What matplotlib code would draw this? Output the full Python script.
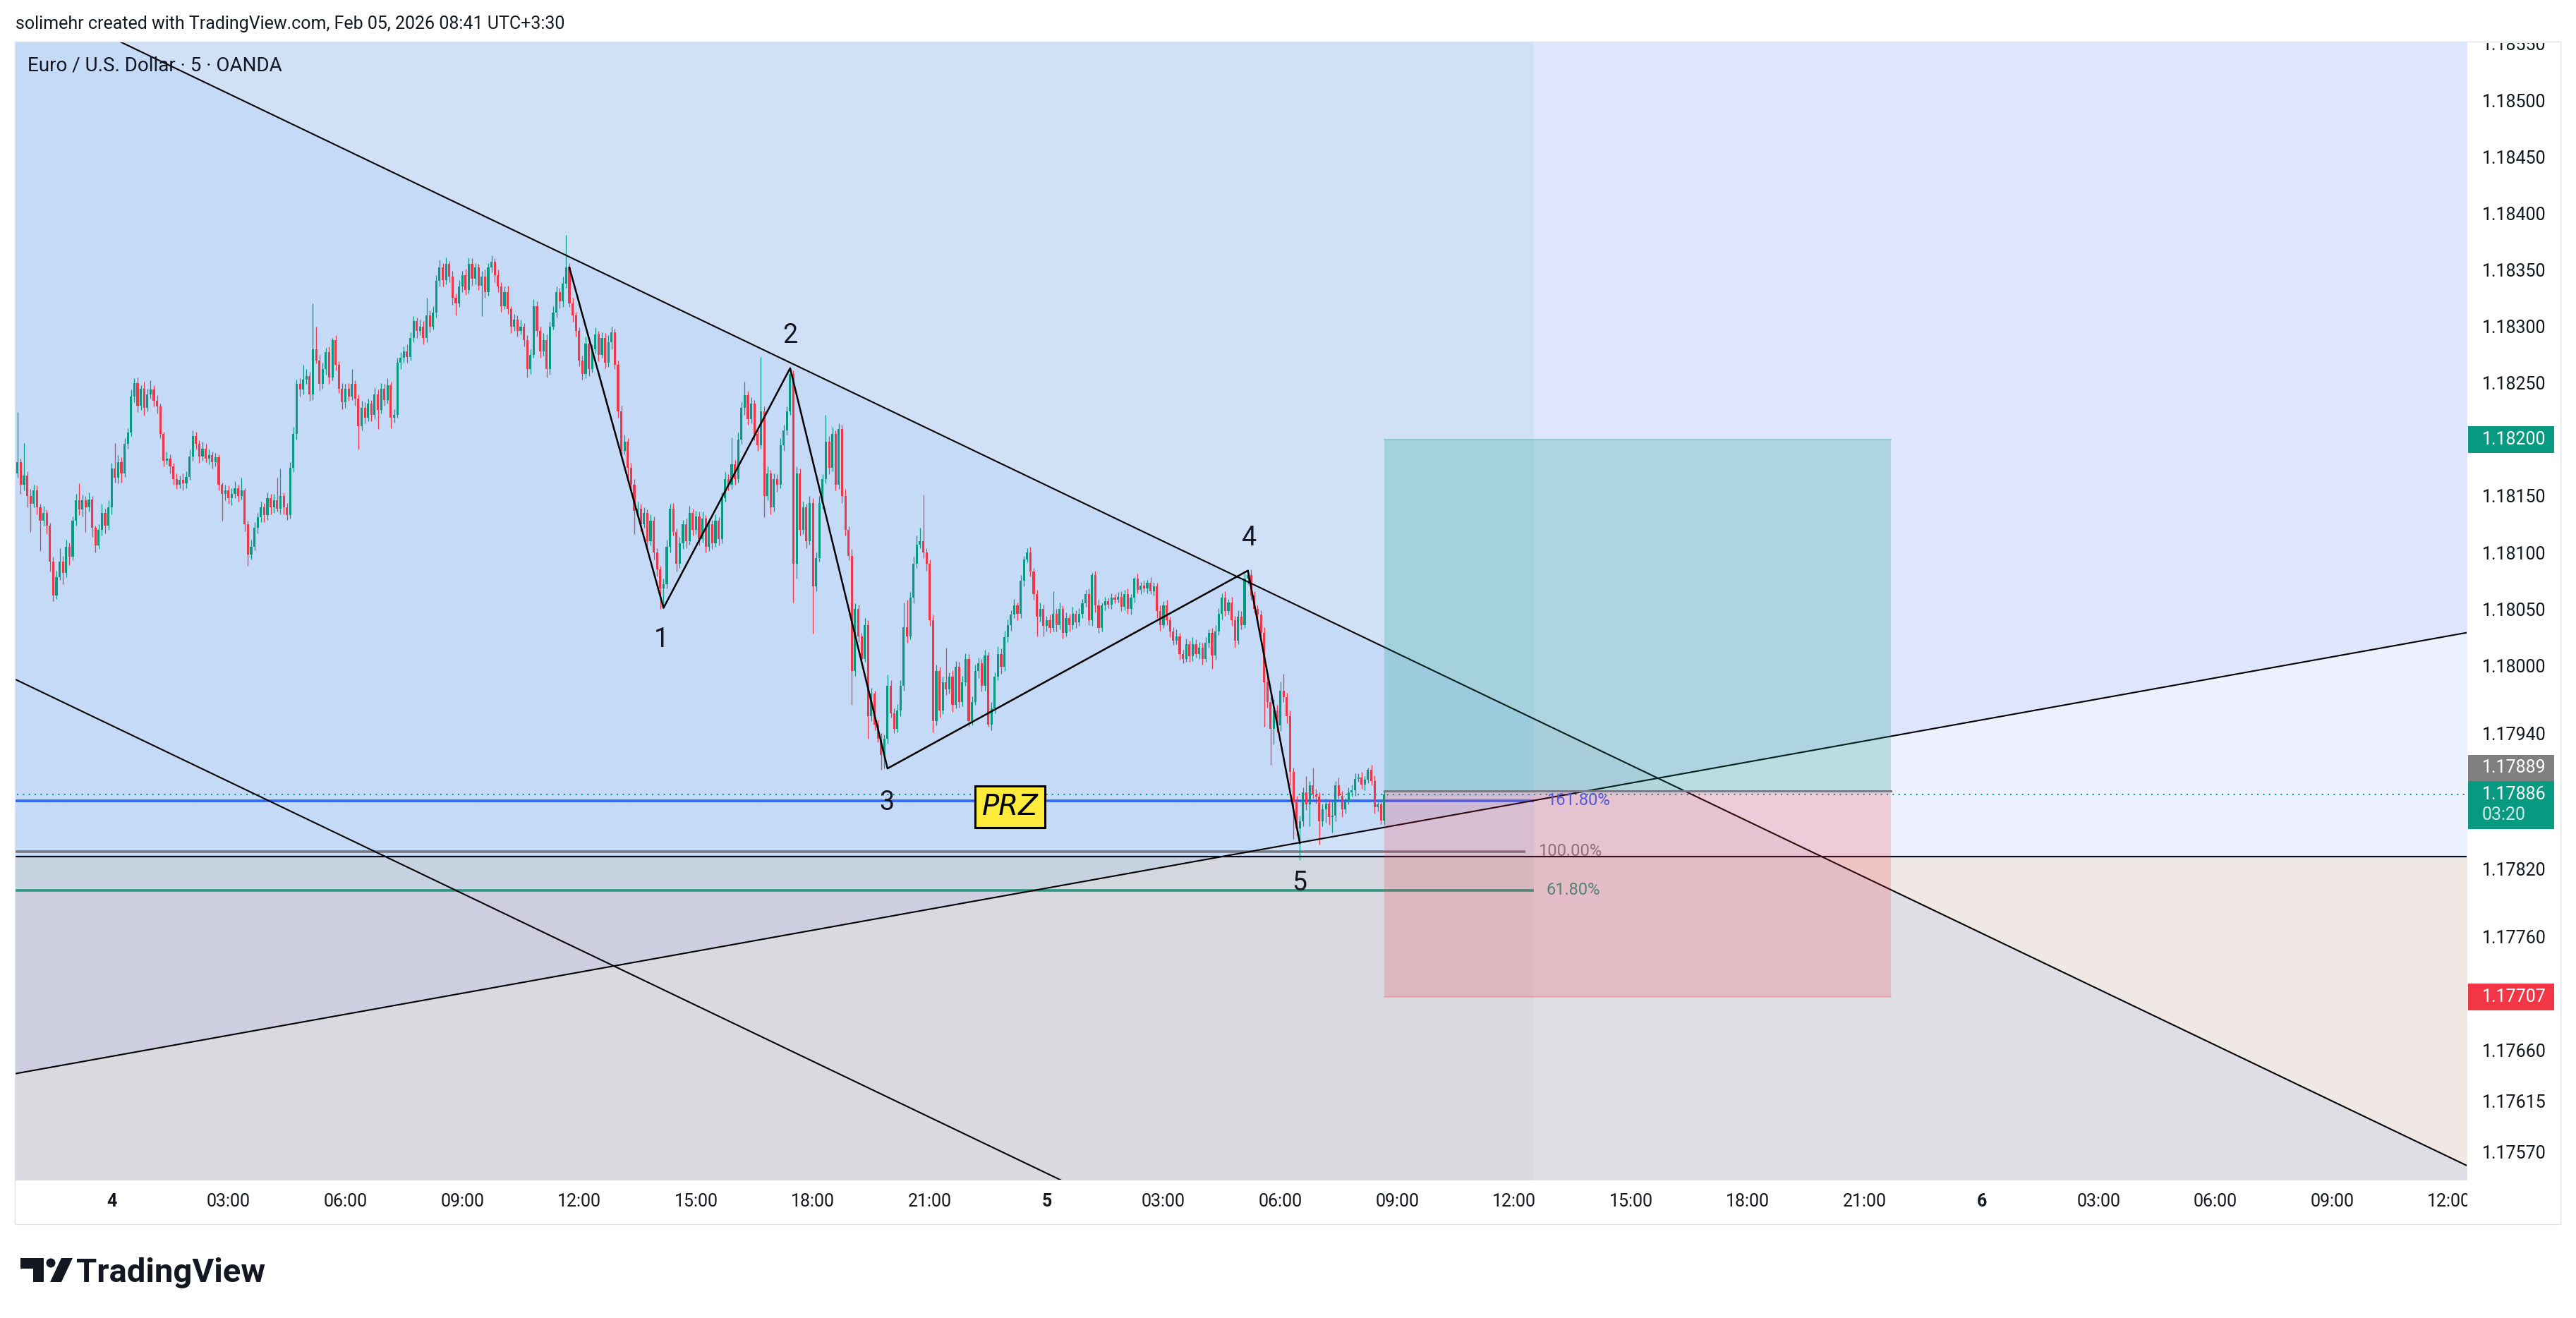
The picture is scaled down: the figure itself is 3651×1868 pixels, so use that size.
"""
EUR/USD 5m chart: wave count 1-5, fib levels, PRZ and a long position
Usage: python plot.py
"""

import numpy as np
import pandas as pd
import matplotlib
matplotlib.use("Agg")
import matplotlib.pyplot as plt
import matplotlib.dates as mdates
import matplotlib.transforms as mtransforms
from matplotlib.patches import Rectangle, Polygon, Ellipse

# Configuration
OUT_PATH = "out.png"
FIG_W, FIG_H, DPI = 3651, 1868, 100
AX_LEFT, AX_TOP, AX_RIGHT, AX_BOTTOM = 22, 59, 3496, 1672   # pixels

# Candles, values are 1e-5 steps above BASE; open = previous close
BASE = 1.17
FIRST_BAR = "2026-02-03 21:35"
OPEN0 = 1170
CLOSE = [
    1180, 1160, 1168, 1150, 1143,
    1155, 1140, 1128, 1135, 1124, 1092, 1062, 1078, 1092, 1082, 1105, 1096,
    1128, 1146, 1138, 1146, 1140, 1147, 1122, 1106, 1120, 1135, 1124, 1140,
    1174, 1166, 1180, 1170, 1196, 1206, 1238, 1250, 1230, 1245, 1228, 1240,
    1244, 1234, 1229, 1205, 1181, 1183, 1176, 1165, 1160, 1164, 1161, 1167,
    1185, 1203, 1196, 1185, 1192, 1183, 1186, 1180, 1184, 1160, 1152, 1155,
    1148, 1152, 1157, 1150, 1155, 1125, 1098, 1105, 1122, 1131, 1140, 1133,
    1148, 1140, 1146, 1139, 1150, 1140, 1133, 1175, 1205, 1249, 1244, 1253,
    1256, 1240, 1280, 1270, 1249, 1262, 1277, 1255, 1288, 1266, 1245, 1233,
    1245, 1238, 1249, 1236, 1212, 1228, 1219, 1232, 1222, 1240, 1226, 1245,
    1235, 1248, 1219, 1222, 1268, 1272, 1278, 1273, 1290, 1305, 1296, 1300,
    1290, 1310, 1300, 1312, 1340, 1352, 1341, 1355, 1344, 1325, 1320, 1335,
    1345, 1332, 1355, 1342, 1352, 1336, 1344, 1330, 1352, 1357, 1345, 1335,
    1318, 1330, 1315, 1300, 1306, 1296, 1300, 1288, 1262, 1275, 1318, 1296,
    1278, 1288, 1262, 1300, 1312, 1330, 1322, 1338, 1352, 1320, 1310, 1296,
    1270, 1258, 1285, 1262, 1280, 1293, 1275, 1290, 1268, 1286, 1295, 1266,
    1225, 1190, 1198, 1175, 1160, 1137, 1139, 1125, 1135, 1110, 1128, 1100,
    1085, 1068, 1072, 1105, 1139, 1118, 1090, 1108, 1125, 1110, 1135, 1120,
    1132, 1112, 1130, 1105, 1125, 1108, 1128, 1112, 1148, 1165, 1160, 1178,
    1165, 1200, 1228, 1239, 1218, 1232, 1205, 1195, 1225, 1150, 1170, 1140,
    1165, 1160, 1195, 1208, 1225, 1258, 1090, 1170, 1120, 1140, 1110, 1144,
    1070, 1095, 1144, 1165, 1198, 1175, 1205, 1160, 1209, 1150, 1120, 1097,
    995, 1050, 1026, 1006, 1036, 955, 975, 948, 935, 921, 935, 982,
    958, 944, 960, 982, 1034, 1026, 1060, 1090, 1107, 1110, 1100, 1090,
    1040, 951, 995, 960, 985, 979, 990, 965, 999, 968, 985, 1006,
    951, 968, 995, 1002, 982, 1009, 948, 962, 990, 1010, 999, 1025,
    1036, 1045, 1053, 1046, 1075, 1094, 1100, 1083, 1063, 1043, 1050, 1035,
    1040, 1033, 1046, 1036, 1050, 1029, 1042, 1036, 1046, 1038, 1046, 1055,
    1063, 1040, 1080, 1053, 1033, 1053, 1057, 1054, 1060, 1058, 1061, 1052,
    1063, 1050, 1060, 1077, 1067, 1071, 1068, 1073, 1066, 1070, 1048, 1036,
    1053, 1040, 1030, 1022, 1026, 1010, 1006, 1019, 1008, 1019, 1010, 1016,
    1006, 1020, 1029, 1009, 1030, 1046, 1060, 1048, 1056, 1040, 1022, 1043,
    1036, 1077, 1080, 1062, 1050, 1045, 1029, 985, 968, 944, 960, 947,
    978, 972, 955, 906, 879, 856, 862, 888, 877, 894, 886, 884,
    862, 873, 878, 866, 867, 894, 885, 873, 880, 888, 890, 900,
    901, 895, 899, 908, 898, 875, 877, 863, 886,
]
UP_WICK = [
    44, 3, 29, 4, 6,
    5, 4, 3, 6, 3, 2, 4, 6, 12, 5, 6, 4,
    4, 6, 15, 5, 4, 6, 3, 2, 5, 8, 4, 6,
    5, 23, 6, 4, 5, 4, 6, 4, 5, 3, 6, 5,
    8, 4, 5, 3, 2, 6, 4, 3, 5, 4, 6, 5,
    6, 5, 4, 3, 6, 4, 5, 3, 4, 3, 2, 5,
    4, 5, 6, 3, 11, 2, 3, 6, 5, 4, 5, 4,
    5, 4, 6, 20, 24, 3, 4, 5, 6, 4, 5, 13,
    6, 4, 40, 20, 5, 6, 4, 5, 2, 4, 3, 5,
    4, 5, 13, 3, 4, 6, 5, 4, 3, 6, 4, 5,
    4, 6, 3, 5, 4, 5, 4, 6, 5, 4, 3, 6,
    5, 15, 4, 6, 5, 7, 4, 6, 3, 5, 4, 6,
    4, 6, 6, 5, 4, 3, 5, 6, 4, 6, 3, 5,
    4, 5, 6, 3, 5, 4, 6, 3, 4, 5, 6, 4,
    4, 6, 5, 4, 6, 5, 4, 6, 29, 4, 5, 3,
    3, 4, 6, 5, 4, 6, 3, 5, 4, 6, 5, 3,
    4, 5, 6, 3, 4, 5, 6, 4, 5, 3, 6, 4,
    4, 3, 5, 6, 4, 5, 3, 6, 4, 5, 6, 4,
    5, 4, 6, 3, 5, 4, 6, 3, 5, 6, 4, 24,
    4, 6, 5, 12, 4, 5, 3, 6, 48, 4, 6, 3,
    5, 4, 6, 5, 4, 5, 3, 6, 4, 5, 3, 6,
    4, 5, 6, 4, 24, 5, 6, 3, 5, 4, 6, 3,
    6, 5, 4, 3, 6, 4, 5, 3, 4, 5, 4, 10,
    5, 4, 6, 5, 22, 24, 5, 6, 8, 12, 41, 4,
    4, 5, 6, 4, 5, 31, 4, 6, 5, 4, 6, 5,
    4, 5, 6, 5, 4, 5, 3, 6, 4, 7, 5, 6,
    5, 4, 6, 3, 5, 3, 4, 5, 3, 4, 6, 4,
    4, 5, 20, 4, 6, 3, 5, 4, 6, 3, 5, 4,
    4, 5, 2, 4, 5, 3, 4, 3, 4, 3, 4, 5,
    4, 5, 3, 1, 4, 3, 4, 3, 5, 4, 3, 5,
    4, 5, 3, 4, 6, 3, 4, 5, 3, 6, 4, 5,
    4, 5, 3, 4, 6, 5, 4, 6, 3, 5, 4, 6,
    5, 4, 3, 5, 4, 3, 4, 5, 6, 4, 10, 5,
    8, 15, 4, 5, 4, 6, 5, 4, 14, 4, 16, 5,
    4, 5, 4, 3, 13, 4, 7, 4, 3, 4, 5, 5,
    4, 5, 3, 2, 4, 5, 3, 4, 3,
]
DN_WICK = [
    4, 8, 5, 10, 25,
    3, 6, 27, 4, 8, 9, 5, 3, 2, 10, 4, 7,
    3, 4, 5, 6, 22, 4, 8, 6, 3, 5, 7, 4,
    6, 4, 5, 8, 3, 4, 3, 5, 6, 4, 7, 3,
    4, 5, 6, 4, 5, 3, 6, 5, 4, 3, 6, 4,
    3, 4, 5, 6, 4, 3, 5, 6, 4, 5, 24, 6,
    5, 6, 4, 5, 3, 6, 10, 4, 3, 5, 4, 6,
    4, 6, 5, 3, 5, 6, 4, 3, 4, 5, 6, 4,
    4, 6, 5, 3, 6, 4, 5, 6, 3, 5, 4, 6,
    5, 4, 3, 6, 21, 4, 5, 3, 6, 4, 17, 3,
    5, 3, 9, 4, 3, 6, 4, 5, 3, 4, 6, 4,
    6, 4, 5, 3, 4, 5, 6, 4, 5, 6, 10, 3,
    5, 4, 3, 6, 5, 4, 27, 5, 3, 4, 6, 5,
    5, 3, 4, 6, 4, 5, 3, 6, 7, 4, 3, 5,
    6, 4, 7, 5, 3, 4, 6, 5, 4, 3, 6, 5,
    5, 5, 4, 6, 3, 4, 6, 3, 5, 4, 6, 4,
    6, 4, 3, 13, 5, 21, 4, 6, 3, 5, 4, 6,
    6, 18, 17, 4, 5, 3, 7, 4, 5, 6, 3, 5,
    4, 6, 3, 5, 4, 5, 3, 6, 4, 3, 5, 4,
    5, 3, 4, 6, 5, 4, 6, 5, 3, 19, 4, 6,
    4, 6, 3, 5, 4, 3, 34, 13, 5, 4, 6, 3,
    42, 4, 3, 5, 4, 6, 3, 5, 4, 6, 5, 4,
    30, 4, 5, 6, 3, 20, 4, 5, 3, 13, 12, 4,
    4, 4, 3, 5, 4, 6, 3, 5, 4, 3, 5, 6,
    5, 10, 4, 6, 3, 5, 4, 6, 3, 5, 4, 3,
    5, 4, 3, 6, 5, 4, 2, 5, 4, 3, 6, 4,
    4, 5, 3, 6, 4, 5, 3, 4, 5, 17, 4, 9,
    5, 4, 3, 6, 4, 5, 3, 6, 4, 5, 3, 4,
    3, 4, 5, 6, 4, 3, 4, 3, 4, 3, 2, 4,
    3, 4, 5, 4, 3, 4, 3, 4, 3, 4, 6, 5,
    3, 4, 5, 4, 3, 5, 4, 3, 5, 4, 3, 4,
    5, 3, 4, 12, 4, 3, 5, 4, 3, 5, 6, 3,
    4, 3, 5, 4, 3, 5, 4, 39, 5, 32, 14, 6,
    5, 4, 6, 12, 32, 6, 28, 4, 5, 19, 4, 6,
    20, 4, 12, 7, 14, 5, 3, 7, 4, 3, 4, 5,
    3, 4, 5, 3, 4, 6, 4, 3, 4,
]

# Drawings, anchors as (time, price)
TREND_UPPER = [("2026-02-04 00:00", 1.185553), ("2026-02-06 12:00", 1.175653)]
TREND_LOWER = [("2026-02-04 00:00", 1.179470), ("2026-02-06 12:00", 1.169570)]
TREND_RISING = [("2026-02-04 00:00", 1.176544), ("2026-02-06 12:00", 1.180263)]
HLINE = 1.17831

WAVE_TIMES = ["2026-02-04 11:45", "2026-02-04 14:10", "2026-02-04 17:25",
              "2026-02-04 19:55", "2026-02-05 05:10", "2026-02-05 06:30"]
WAVE_PRICES = [1.18352, 1.18051, 1.18263, 1.17909, 1.18084, 1.17843]
WAVE_LABELS = ["1", "2", "3", "4", "5"]
LABEL_TIMES = ["2026-02-04 14:07", "2026-02-04 17:25", "2026-02-04 19:54",
               "2026-02-05 05:11", "2026-02-05 06:29"]
LABEL_PRICES = [1.18023, 1.18292, 1.17879, 1.18113, 1.17808]

FIB_NAMES = ["161.80%", "100.00%", "61.80%"]
FIB_LEVELS = [1.178806, 1.178356, 1.178013]
FIB_ENDS = ["2026-02-05 12:30", "2026-02-05 12:17", "2026-02-05 12:30"]
FIB_COLORS = ["#2962FF", "#787B86", "#2F9682"]

PRZ_TIME, PRZ_PRICE = "2026-02-04 23:04", 1.17875
SPLIT_TIME = "2026-02-05 12:30"
POS_START, POS_END = "2026-02-05 08:40", "2026-02-05 21:40"
ENTRY, TARGET, STOP = 1.17889, 1.18200, 1.17707
COUNTDOWN = "03:20"

X_START, X_END = "2026-02-03 21:32", "2026-02-06 12:27"
Y_MIN, Y_MAX = 1.175453, 1.185518
PRICE_TICKS = [1.18550, 1.18500, 1.18450, 1.18400, 1.18350, 1.18300, 1.18250,
               1.18200, 1.18150, 1.18100, 1.18050, 1.18000, 1.17940, 1.17820,
               1.17760, 1.17660, 1.17615, 1.17570]
TIME_TICKS = pd.date_range("2026-02-04 00:00", "2026-02-06 12:00", freq="3h")

HEADER = "solimehr created with TradingView.com, Feb 05, 2026 08:41 UTC+3:30"
SYMBOL = "Euro / U.S. Dollar · 5 · OANDA"

UP_COLOR = "#089981"
DOWN_COLOR = "#F23645"
TEXT_COLOR = "#131722"

# region colours (opaque, as they look after all the overlays)
L_TOP = "#D0E1F7"
L_CHANNEL = "#C5DAF7"
L_UNDER_RISING = "#D1E1F7"
L_FIB_BAND = "#C7D2E1"
L_LOW = "#CDCFE1"
L_BOTTOM = "#DAD9DF"
L_BAND_BOTTOM = "#D4D8DE"
R_TOP = "#DEE5FC"
R_MID = "#EDF1FD"
R_TOP_CHANNEL = "#D5DDF4"
R_MID_CHANNEL = "#E3E7F4"
R_LOW = "#F0E8E4"
R_BOTTOM = "#E0DEE5"


def tnum(s):
    return mdates.date2num(pd.Timestamp(s))


def line_at(xs, pts):
    (t0, p0), (t1, p1) = pts
    x0, x1 = tnum(t0), tnum(t1)
    return p0 + (xs - x0) * (p1 - p0) / (x1 - x0)


def shade(ax, xs, lo, hi, color, where=None):
    lo = np.broadcast_to(lo, xs.shape).astype(float)
    hi = np.broadcast_to(hi, xs.shape).astype(float)
    if where is None:
        where = hi > lo
    ax.fill_between(xs, lo, hi, where=where, interpolate=True, color=color,
                    lw=0, antialiased=False, zorder=0)


def shade_regions(ax):
    """Background overlays split by the drawings"""
    top, bot = Y_MAX + 0.001, Y_MIN - 0.001
    split = tnum(SPLIT_TIME)
    fib618 = FIB_LEVELS[2]

    xl = np.linspace(tnum(X_START) - 0.05, split, 1500)
    up = np.minimum(line_at(xl, TREND_UPPER), top)
    rise = line_at(xl, TREND_RISING)
    shade(ax, xl, HLINE, top, L_TOP)
    shade(ax, xl, np.maximum(rise, HLINE), up, L_CHANNEL)
    shade(ax, xl, HLINE, np.minimum(rise, up), L_UNDER_RISING)
    shade(ax, xl, bot, HLINE, L_LOW)
    shade(ax, xl, np.maximum(rise, fib618), HLINE, L_FIB_BAND)
    shade(ax, xl, bot, np.minimum(rise, HLINE), L_BOTTOM)
    shade(ax, xl, fib618, np.minimum(rise, HLINE), L_BAND_BOTTOM)

    xr = np.linspace(split, tnum(X_END) + 0.05, 1500)
    up = np.minimum(line_at(xr, TREND_UPPER), top)
    rise = line_at(xr, TREND_RISING)
    shade(ax, xr, HLINE, top, R_MID)
    shade(ax, xr, np.maximum(rise, HLINE), top, R_TOP)
    shade(ax, xr, np.maximum(rise, HLINE), up, R_TOP_CHANNEL)
    shade(ax, xr, HLINE, np.minimum(rise, up), R_MID_CHANNEL)
    shade(ax, xr, bot, HLINE, R_LOW)
    shade(ax, xr, bot, np.minimum(up, HLINE), R_BOTTOM)


def draw_candles(ax):
    assert len(CLOSE) == len(UP_WICK) == len(DN_WICK)
    t = pd.date_range(FIRST_BAR, periods=len(CLOSE), freq="5min")
    x = mdates.date2num(t)
    c = BASE + np.array(CLOSE) * 1e-5
    o = np.r_[BASE + OPEN0 * 1e-5, c[:-1]]
    hi = np.maximum(o, c) + np.array(UP_WICK) * 1e-5
    lo = np.minimum(o, c) - np.array(DN_WICK) * 1e-5
    colors = np.where(c >= o, UP_COLOR, DOWN_COLOR)

    ax.vlines(x, lo, hi, colors=colors, lw=0.9, zorder=2)
    body = np.maximum(np.abs(c - o), 0.4e-5)
    width = 5 / (24 * 60) * 0.68
    ax.bar(x, body, bottom=np.minimum(o, c), width=width, color=colors,
           lw=0, zorder=2.1)
    return c[-1]


def draw_drawings(ax, last_close):
    x0, x1 = tnum(X_START) - 0.05, tnum(X_END) + 0.05
    xs = np.array([x0, x1])

    # fib levels with labels
    for name, lvl, end, col in zip(FIB_NAMES, FIB_LEVELS, FIB_ENDS, FIB_COLORS):
        ax.plot([x0, tnum(end)], [lvl, lvl], color=col, lw=2.6,
                solid_capstyle="butt", zorder=1.2)
        ax.annotate(name, xy=(tnum(end), lvl), xytext=(13, 0),
                    textcoords="offset points", va="center", ha="left",
                    fontsize=17, color=col, zorder=3.5)

    # current price dotted line
    ax.plot(xs, [last_close, last_close], color=UP_COLOR, lw=1.5,
            ls=(0, (1, 3)), zorder=1.5)

    # trend lines
    for pts in (TREND_UPPER, TREND_LOWER, TREND_RISING):
        ax.plot(xs, line_at(xs, pts), color="black", lw=1.5, zorder=3)
    ax.plot(xs, [HLINE, HLINE], color="#0B0B1A", lw=1.6, zorder=3)

    # wave count
    wx = mdates.date2num(pd.to_datetime(WAVE_TIMES))
    ax.plot(wx, WAVE_PRICES, color="black", lw=1.8, zorder=3.2)
    for lab, t, p in zip(WAVE_LABELS, LABEL_TIMES, LABEL_PRICES):
        ax.text(tnum(t), p, lab, ha="center", va="center", fontsize=27,
                color=TEXT_COLOR, zorder=5)

    ax.text(tnum(PRZ_TIME), PRZ_PRICE, "PRZ", ha="center", va="center",
            fontsize=29, fontstyle="italic", family=["DejaVu Sans"],
            color="black", zorder=5,
            bbox=dict(boxstyle="square,pad=0.24", fc="#FFEB3B", ec="black",
                      lw=2.2))

    # long position
    ps, pe = tnum(POS_START), tnum(POS_END)
    ax.add_patch(Rectangle((ps, ENTRY), pe - ps, TARGET - ENTRY,
                           fc=UP_COLOR, alpha=0.22, lw=0, zorder=4))
    ax.add_patch(Rectangle((ps, STOP), pe - ps, ENTRY - STOP,
                           fc=DOWN_COLOR, alpha=0.2, lw=0, zorder=4))
    ax.plot([ps, pe], [TARGET, TARGET], color=UP_COLOR, alpha=0.35, lw=1.2, zorder=4.1)
    ax.plot([ps, pe], [STOP, STOP], color=DOWN_COLOR, alpha=0.25, lw=1.2, zorder=4.1)
    ax.plot([ps, pe], [ENTRY, ENTRY], color="#787B86", lw=2.2, zorder=4.1)


def draw_price_tags(ax, last_close):
    """Coloured labels on the price scale"""
    blend = mtransforms.blended_transform_factory(ax.transAxes, ax.transData)
    px_x = 1.0 / (AX_RIGHT - AX_LEFT)
    px_y = (Y_MAX - Y_MIN) / (AX_BOTTOM - AX_TOP)

    def box(y_lo, y_hi, color):
        ax.add_patch(Rectangle((1 + 2 * px_x, y_lo), 122 * px_x, y_hi - y_lo,
                               transform=blend, fc=color, ec="none",
                               clip_on=False, zorder=10))

    def label(y, s, color="white"):
        ax.text(1 + 22 * px_x, y, s, transform=blend, ha="left", va="center",
                fontsize=18, color=color, clip_on=False, zorder=11)

    box(TARGET - 19 * px_y, TARGET + 19 * px_y, UP_COLOR)
    label(TARGET, f"{TARGET:.5f}")

    box(STOP - 19 * px_y, STOP + 19 * px_y, DOWN_COLOR)
    label(STOP, f"{STOP:.5f}")

    box(last_close - 49 * px_y, last_close + 19 * px_y, UP_COLOR)
    label(last_close, f"{last_close:.5f}")
    label(last_close - 29 * px_y, COUNTDOWN, color="#CDEBE5")

    box(last_close + 19 * px_y, last_close + 56 * px_y, "#7F7F7F")
    label(last_close + 37.5 * px_y, f"{ENTRY:.5f}")


def fx(px):
    return px / FIG_W


def fy(py):
    return 1 - py / FIG_H


def decorate(fig, ax):
    ax.set_xlim(tnum(X_START), tnum(X_END))
    ax.set_ylim(Y_MIN, Y_MAX)
    for s in ax.spines.values():
        s.set_visible(False)

    ax.yaxis.tick_right()
    ax.set_yticks(PRICE_TICKS, [f"{p:.5f}" for p in PRICE_TICKS])
    labels = [str(t.day) if t.hour == 0 else t.strftime("%H:%M") for t in TIME_TICKS]
    ax.set_xticks(mdates.date2num(TIME_TICKS), labels)
    for lab, t in zip(ax.get_xticklabels(), TIME_TICKS):
        if t.hour == 0:
            lab.set_fontweight("bold")
    ax.tick_params(axis="y", length=0, pad=15.5, labelsize=18, labelcolor=TEXT_COLOR)
    ax.tick_params(axis="x", length=0, pad=14, labelsize=18, labelcolor=TEXT_COLOR)

    # hide the parts of scale labels that fall outside the chart panes
    for x0, y0, x1, y1 in [(3497, 0, 3651, 61), (3497, 1673, 3651, 1734)]:
        fig.add_artist(Rectangle((fx(x0), fy(y1)), fx(x1) - fx(x0), fy(y0) - fy(y1),
                                 transform=fig.transFigure, fc="white", ec="none",
                                 zorder=20))
    fig.add_artist(Rectangle((fx(21), fy(1735)), fx(3629) - fx(21), fy(59) - fy(1735),
                             transform=fig.transFigure, fill=False, ec="#E0E3EB",
                             lw=1.0, zorder=21))

    fig.text(fx(22), fy(34), HEADER, ha="left", va="center", fontsize=18,
             color=TEXT_COLOR, zorder=22)
    fig.text(fx(39), fy(93), SYMBOL, ha="left", va="center", fontsize=20,
             color=TEXT_COLOR, zorder=22)

    # TradingView logo
    t_shape = [(29, 1783), (62, 1783), (62, 1817), (47, 1817), (47, 1798), (29, 1798)]
    slash = [(71, 1817), (87, 1817), (103, 1783), (87, 1783)]
    for pts in (t_shape, slash):
        fig.add_artist(Polygon([(fx(a), fy(b)) for a, b in pts], closed=True,
                               transform=fig.transFigure, fc=TEXT_COLOR, ec="none",
                               zorder=22))
    fig.add_artist(Ellipse((fx(72), fy(1790)), 13 / FIG_W, 13 / FIG_H,
                           transform=fig.transFigure, fc=TEXT_COLOR, ec="none",
                           zorder=22))
    fig.text(fx(108), fy(1817), "TradingView", ha="left", va="baseline",
             fontsize=34, fontweight="bold", color=TEXT_COLOR, zorder=22)


def main():
    plt.rcParams["font.family"] = ["Roboto", "DejaVu Sans"]
    fig = plt.figure(figsize=(FIG_W / DPI, FIG_H / DPI), dpi=DPI, facecolor="white")
    ax = fig.add_axes([fx(AX_LEFT), fy(AX_BOTTOM), fx(AX_RIGHT) - fx(AX_LEFT),
                       fy(AX_TOP) - fy(AX_BOTTOM)])
    ax.set_facecolor("white")

    shade_regions(ax)
    last_close = draw_candles(ax)
    draw_drawings(ax, last_close)
    decorate(fig, ax)
    draw_price_tags(ax, last_close)

    fig.savefig(OUT_PATH, dpi=DPI, facecolor="white")
    print(f"saved {OUT_PATH}")


if __name__ == "__main__":
    main()
